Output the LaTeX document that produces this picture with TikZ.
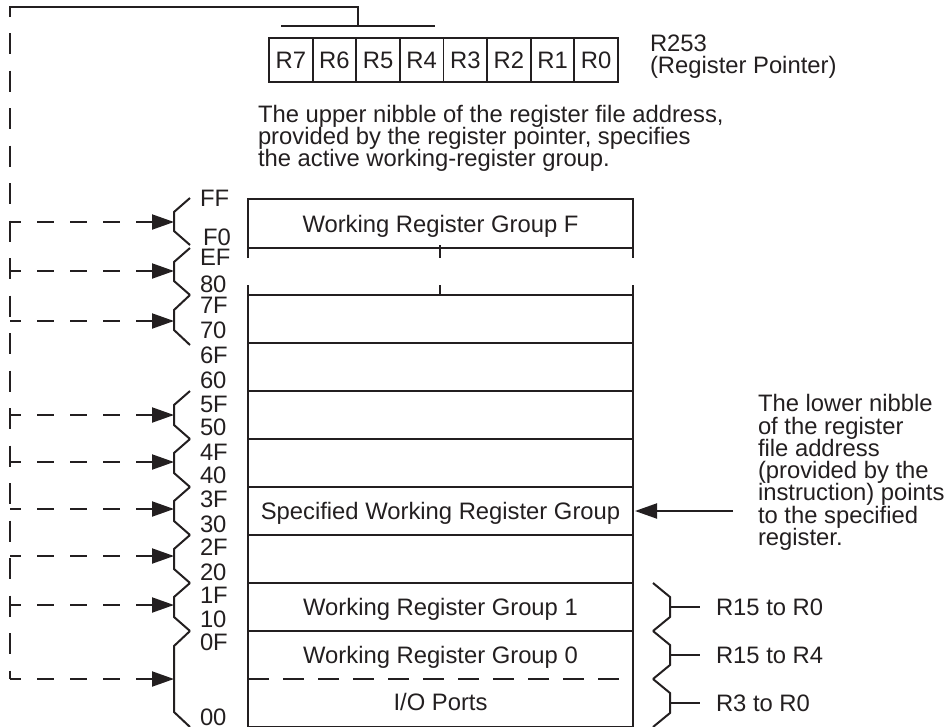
\documentclass[tikz,border=0pt]{standalone}
\usepackage{fontspec}
\setmainfont{Liberation Sans}
\usetikzlibrary{arrows.meta}
\definecolor{ink}{RGB}{35,31,32}
\tikzset{Ptr/.tip={Triangle[length=22pt,width=15pt]}}
\begin{document}
\begin{tikzpicture}[x=1pt,y=-1pt,
  lbl/.style={font=\fontsize{23.8}{22.3}\selectfont, inner sep=0pt, outer sep=0pt, text=ink},
  ln/.style={line width=2pt, draw=ink},
  regbox/.style={draw=ink, line width=1.8pt, minimum width=43.6pt, minimum height=44pt,
     inner sep=0pt, outer sep=0pt, font=\fontsize{23.8}{22.3}\selectfont, text=ink,
     text height=16.8pt, text depth=0pt},
  hdash/.style={ln, dash pattern=on 16.5pt off 16.5pt},
  vdash/.style={ln, dash pattern=on 21pt off 16.5pt},
]
\useasboundingbox (0,0) rectangle (950,726);

% register pointer R253
\foreach \n [count=\i from 0] in {R7,R6,R5,R4,R3,R2,R1,R0}
  \node[regbox] (reg\i) at ({269+43.625*(\i+0.5)},60) {\n};
\node[lbl, anchor=base west] (rp1) at (650,51) {R253};
\node[lbl, anchor=base west] (rp2) at (650,73) {(Register Pointer)};

% upper nibble bracket and feedback line
\coordinate (ubl) at (281,26);
\coordinate (ubr) at (435,26);
\coordinate (ubm) at (358,26);
\coordinate (ubt) at (358,7);
\coordinate (corner) at (10,7);
\coordinate (cornerend) at (10,17);
\coordinate (vtop) at (10,33);
\coordinate (vbot) at (10,679);
\draw[ln] (ubl) -- (ubr);
\draw[ln, line join=miter] (ubm) -- (ubt) -- (corner) -- (cornerend);
\draw[vdash] (vtop) -- (vbot);

% upper paragraph
\node[lbl, anchor=base west] (up1) at (258,122) {The upper nibble of the register file address,};
\node[lbl, anchor=base west] (up2) at (258,144.3) {provided by the register pointer, specifies};
\node[lbl, anchor=base west] (up3) at (258,166.6) {the active working-register group.};

% register file column
\draw[ln, line join=miter] (248,258) -- (248,199) -- (633,199) -- (633,258);
\draw[ln] (248,248) -- (633,248);
\draw[ln] (440,245) -- (440,258);
\draw[ln] (248,285) -- (248,727);
\draw[ln] (633,285) -- (633,727);
\draw[ln] (440,285) -- (440,295);
\foreach \y in {295,343,391,439,487,535,583,631}
  \draw[ln] (248,\y) -- (633,\y);
\draw[ln, dash pattern=on 21pt off 14pt] (248,679) -- (633,679);
\draw[ln] (248,726.5) -- (633,726.5);

\node[lbl, anchor=base] (gF) at (440.5,232) {Working Register Group F};
\node[lbl, anchor=base] (gS) at (440.5,519) {Specified Working Register Group};
\node[lbl, anchor=base] (g1) at (440.5,615) {Working Register Group 1};
\node[lbl, anchor=base] (g0) at (440.5,663) {Working Register Group 0};
\node[lbl, anchor=base] (gio) at (440.5,710) {I/O Ports};

% hex address labels
\foreach \t/\y [count=\i] in {FF/206,EF/265,80/292,7F/313,70/338,6F/363,60/388,5F/412,50/435,4F/460,40/483,3F/507,30/532,2F/555,20/580,1F/603,10/627,0F/650,00/725}
  \node[lbl, anchor=base west] (hex\i) at (200,\y) {\t};
\node[lbl, anchor=base west] (hexF0) at (203,245) {F0};

% left braces with dashed arrows
\foreach \t/\b/\a/\d [count=\i] in {198/245/222/14, 248/295/271/14, 295/345/321/15, 391/439/415/14, 439/487/462/14, 487/535/509/14, 535/583/556/14, 583/631/605/14, 631/727/679/15}{
  \draw[ln, line join=miter] (190,\t) -- (174,\t+\d) -- (174,\b-\d) -- (190,\b);
  \coordinate (btip\i) at (174,\a);
  \coordinate (bsrc\i) at (10,\a);
  \draw[hdash, Ptr-] (btip\i) -- (bsrc\i);
}

% right pointer and paragraph
\coordinate (rsrc) at (733,511);
\coordinate (rtip) at (635,511);
\draw[ln, -Ptr] (rsrc) -- (rtip);
\node[lbl, anchor=base west] (lo1) at (758,411.7) {The lower nibble};
\node[lbl, anchor=base west] (lo2) at (758,434) {of the register};
\node[lbl, anchor=base west] (lo3) at (758,456.3) {file address};
\node[lbl, anchor=base west] (lo4) at (758,478.6) {(provided by the};
\node[lbl, anchor=base west] (lo5) at (758,500.9) {instruction) points};
\node[lbl, anchor=base west] (lo6) at (758,523.2) {to the specified};
\node[lbl, anchor=base west] (lo7) at (758,545.5) {register.};

% right braces
\foreach \t/\b/\s [count=\i] in {583/631/R15 to R0, 631/679/R15 to R4, 679/727/R3 to R0}{
  \draw[ln, line join=miter] (653,\t) -- (670,\t+14) -- (670,\b-14) -- (653,\b);
  \coordinate (rb\i) at (670,{(\t+\b)/2});
  \coordinate (rt\i) at (700,{(\t+\b)/2});
  \draw[ln] (rb\i) -- (rt\i);
  \node[lbl, anchor=base west] (rl\i) at (716,{(\t+\b)/2+8}) {\s};
}
\end{tikzpicture}
\end{document}
